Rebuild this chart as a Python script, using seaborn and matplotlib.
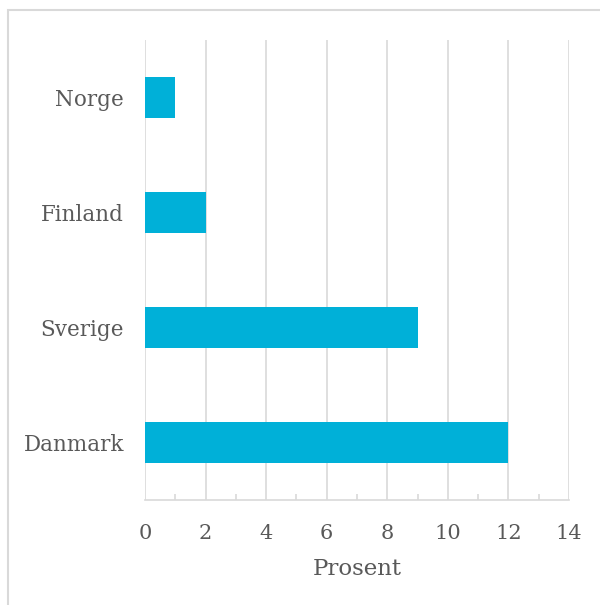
import matplotlib
matplotlib.use("Agg")
import matplotlib.pyplot as plt
import seaborn as sns
import pandas as pd
from matplotlib.patches import Rectangle
from matplotlib.ticker import MultipleLocator

countries = ["Norge", "Finland", "Sverige", "Danmark"]
values = [1, 2, 9, 12]
xticks = [0, 2, 4, 6, 8, 10, 12, 14]
xlabel = "Prosent"

df = pd.DataFrame({"land": countries, "prosent": values})

sns.set_theme(style="white")
plt.rcParams["font.family"] = ["DejaVu Serif"]

text_color = "#595959"
grid_color = "#d9d9d9"

fig = plt.figure(figsize=(6.0, 6.05), dpi=100)
ax = fig.add_axes([0.2417, 0.1736, 0.9483 - 0.2417, 0.9339 - 0.1736])

sns.barplot(data=df, x="prosent", y="land", orient="h", color="#00B0D8",
            saturation=1, width=0.355, ax=ax, zorder=3, edgecolor="none")

ax.set_xlim(0, 14)
ax.set_ylim(3.5, -0.5)
ax.set_xticks(xticks)
ax.set_xticklabels([str(t) for t in xticks])
ax.xaxis.set_minor_locator(MultipleLocator(1))
ax.grid(axis="x", color=grid_color, linewidth=1.2, zorder=0)
ax.set_axisbelow(True)

for s in ["top", "right", "left"]:
    ax.spines[s].set_visible(False)
ax.spines["bottom"].set_color(grid_color)
ax.spines["bottom"].set_linewidth(1.2)

ax.tick_params(axis="x", which="major", length=0, pad=17, labelsize=15, labelcolor=text_color)
ax.tick_params(axis="x", which="minor", direction="in", length=4, width=1.2, color=grid_color, bottom=True)
ax.tick_params(axis="y", length=0, pad=15, labelsize=15.5, labelcolor=text_color)

ax.set_ylabel("")
ax.set_xlabel(xlabel, fontsize=16.5, color=text_color, labelpad=11)

fig.patches.append(Rectangle((8 / 600, -0.1), 1.2, 1 - 10 / 605 + 0.1,
                             transform=fig.transFigure, fill=False,
                             edgecolor="#d9d9d9", linewidth=1.5))

fig.savefig("out.png", dpi=100)
